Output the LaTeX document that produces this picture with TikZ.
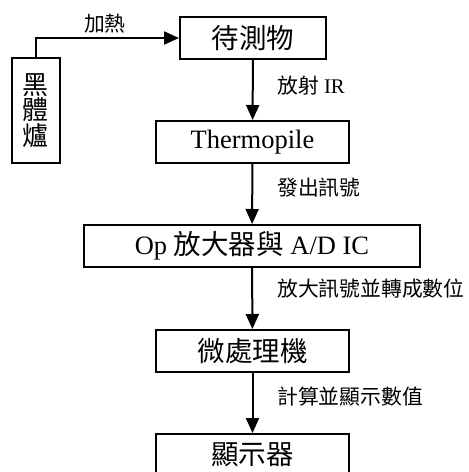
\documentclass[tikz,border=0pt]{standalone}
\usepackage{fontspec}
\setmainfont{Liberation Serif}
\newfontfamily\cjk{Noto Sans CJK TC}
\newcommand\zh[1]{{\cjk\fontsize{27.5}{29}\selectfont #1}}
\newcommand\zs[1]{{\cjk #1}}
\usetikzlibrary{arrows.meta}
\tikzset{
  box/.style={draw, line width=2pt, inner sep=0pt, minimum height=42pt,
    font=\fontsize{26.5}{28}\selectfont},
  lbl/.style={anchor=west, inner sep=0pt, font=\fontsize{20.8}{22}\selectfont},
  conn/.style={line width=2pt, -{Triangle[width=13pt,length=15pt]}}
}
\begin{document}
\begin{tikzpicture}[x=1pt,y=-1pt]
\clip (0,0) rectangle (469,472);
\fill[white] (0,0) rectangle (469,472);
\node[box, minimum width=146pt] (dut) at (253,38) {\zh{待測物}};
\node[box, minimum width=48pt, minimum height=105pt, align=center,
  font=\cjk\fontsize{26}{25.5}\selectfont] (bb) at (36,110.5) {黑\\體\\爐};
\node[box, minimum width=193pt] (tp) at (252.5,142) {Thermopile};
\node[box, minimum width=336pt] (op) at (252,246) {Op \zh{放大器與} A/D IC};
\node[box, minimum width=193pt] (mcu) at (252.5,351) {\zh{微處理機}};
\node[box, minimum width=193pt] (disp) at (252.5,455) {\zh{顯示器}};
\draw[conn] (bb.north) |- (dut.west);
\draw[conn] (dut) -- (tp);
\draw[conn] (tp) -- (op);
\draw[conn] (op) -- (mcu);
\draw[conn] (mcu) -- (disp);
\node[lbl, anchor=center] (l1) at (105,24) {\zs{加熱}};
\node[lbl] (l2) at (277,86) {\zs{放射} IR};
\node[lbl] (l3) at (277,188) {\zs{發出訊號}};
\node[lbl] (l4) at (277,289) {\zs{放大訊號並轉成數位}};
\node[lbl] (l5) at (277,397) {\zs{計算並顯示數值}};
\end{tikzpicture}
\end{document}
